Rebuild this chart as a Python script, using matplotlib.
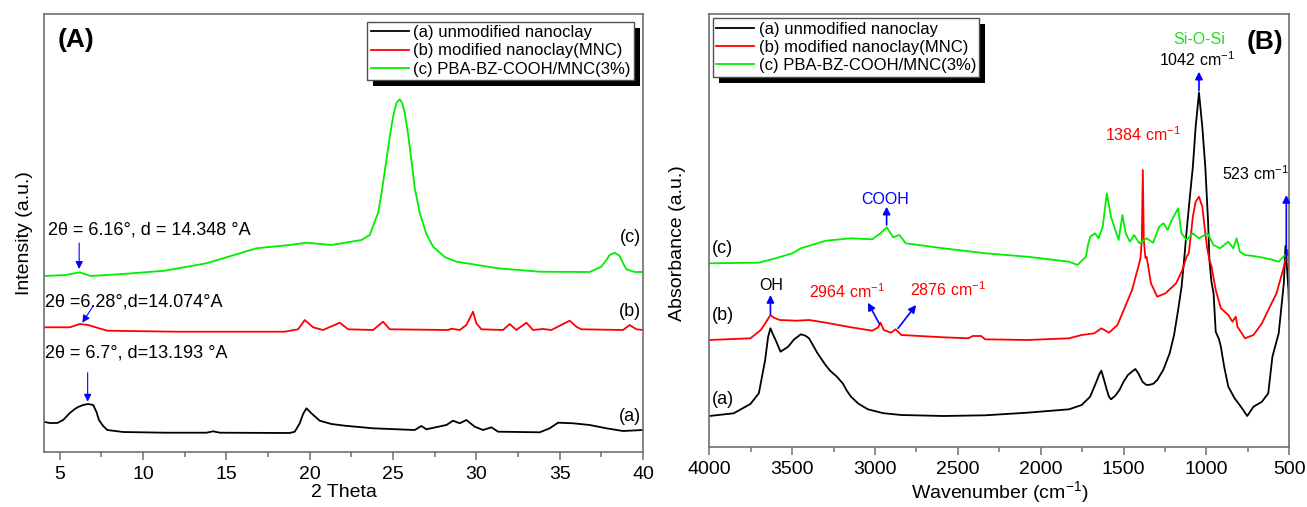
import matplotlib
matplotlib.use("Agg")
import matplotlib.pyplot as plt
from matplotlib.patches import Rectangle
from matplotlib.ticker import MultipleLocator

plt.rcParams["font.family"] = ["Liberation Sans", "DejaVu Sans"]
plt.rcParams["mathtext.fontset"] = "custom"
plt.rcParams["mathtext.rm"] = "Liberation Sans"
plt.rcParams["mathtext.it"] = "Liberation Sans:italic"
plt.rcParams["mathtext.bf"] = "Liberation Sans:bold"

# ---------------- XRD data (2 theta, arbitrary intensity) ----------------
xrd_a_x = [4.0, 4.4, 4.85, 5.2, 5.6, 5.9, 6.1, 6.4, 6.7, 7.0, 7.2, 7.35, 7.6, 7.85, 8.8, 11.3,
           13.8, 14.2, 14.6, 18.8, 19.1, 19.4, 19.6, 19.8, 20.1, 20.6, 21.3, 22.1, 23.8, 26.3,
           26.7, 27.0, 28.2, 28.6, 29.0, 29.4, 29.9, 30.4, 30.9, 31.3, 33.8, 34.4, 34.9, 35.8,
           36.8, 37.8, 38.8, 40.0]
xrd_a_y = [30.3, 29, 29, 32, 39, 43, 45, 47, 48, 47, 40, 32, 26, 22, 20, 19.3,
           19.3, 20.7, 19.3, 19, 20.3, 28.7, 38, 43.7, 38.7, 31.3, 28, 26.3, 23.7, 22,
           26, 22.7, 27, 31.3, 28.7, 32, 25.3, 22, 24.7, 20.3, 19.7, 23.7, 29.3, 28.7,
           27, 23.7, 21, 22]

xrd_b_x = [4.0, 5.6, 6.2, 6.7, 7.35, 7.85, 12.0, 18.5, 19.3, 19.7, 20.2, 20.8, 21.8, 22.3,
           23.8, 24.4, 24.8, 28.3, 28.5, 29.0, 29.4, 29.8, 30.0, 30.3, 31.6, 32.0, 32.4,
           33.0, 33.4, 34.0, 34.5, 35.6, 36.0, 36.3, 38.8, 39.2, 39.6, 40.0]
xrd_b_y = [124.7, 124.7, 128, 127, 123.7, 121.3, 120.3, 120.3, 122.7, 132, 124.7, 122, 129.3, 122.7,
           122, 130.3, 122.7, 122, 123.3, 122, 127, 140.3, 128.7, 122.7, 122, 128, 122,
           129.3, 122, 123, 122, 131.3, 125.3, 122.7, 122, 127, 122.7, 122]

xrd_c_x = [4.0, 5.35, 6.2, 6.85, 8.8, 11.3, 13.8, 15.8, 16.8, 18.8, 19.8, 21.3, 23.1, 23.6,
           24.1, 24.3, 24.6, 24.8, 25.0, 25.2, 25.4, 25.55, 25.7, 25.9, 26.1, 26.3, 26.6,
           27.0, 27.4, 28.1, 28.8, 31.3, 33.8, 36.8, 37.5, 37.8, 38.0, 38.3, 38.6, 38.8,
           39.0, 39.5, 40.0]
xrd_c_y = [176, 177, 179.7, 176, 178, 181.3, 188.7, 198.7, 203.7, 207, 209.3, 207, 212, 217,
           239, 258, 292, 315, 335.3, 349, 352.7, 349, 339, 318, 292, 264, 239,
           218, 205.3, 195, 190.3, 183.7, 180.3, 180, 185.3, 192, 197, 199.3, 196, 189,
           182.7, 180, 180]

# ---------------- FTIR data (wavenumber, arbitrary absorbance) ----------------
ir_a_x = [4000, 3853, 3752, 3701, 3663, 3645, 3631, 3615, 3600, 3570, 3524, 3490, 3448, 3420,
          3398, 3347, 3300, 3271, 3230, 3195, 3170, 3145, 3100, 3043, 2950, 2841, 2588, 2335,
          2082, 1829, 1753, 1702, 1664, 1648, 1634, 1620, 1601, 1588, 1576, 1550, 1525, 1500,
          1474, 1450, 1429, 1410, 1386, 1365, 1348, 1320, 1297, 1260, 1222, 1195, 1171, 1150,
          1133, 1120, 1100, 1082, 1065, 1045, 1025, 1007, 990, 982, 970, 957, 944, 924, 913,
          893, 868, 830, 792, 754, 716, 665, 627, 602, 564, 533, 523, 505, 500]
ir_a_y = [30.7, 33.4, 42.7, 53.4, 86.7, 110, 118.4, 112, 106.7, 95, 100, 107, 112.4, 111,
          108.4, 93.4, 82, 76, 70, 63.4, 56, 50, 43, 37.4, 33.5, 31.7, 30.7, 31.4,
          34, 37.4, 41.7, 50, 65, 72, 76, 68, 56.7, 50, 47.4, 51, 56.7, 65,
          71.7, 75, 77.7, 73, 65, 62, 61.7, 63, 66.7, 77, 93.4, 112, 136.7, 160,
          190, 215, 250, 280, 320, 354, 320, 280, 225, 186.7, 165, 153.4, 115, 107.4, 100,
          80, 60, 48.4, 40, 30.7, 40, 45, 53.4, 90, 113.4, 163.4, 200.7, 156.7, 126.7]

ir_b_x = [4000, 3752, 3689, 3660, 3631, 3610, 3575, 3474, 3398, 3296, 3145, 3017, 2980, 2967,
          2947, 2904, 2876, 2841, 2588, 2436, 2411, 2360, 2335, 2082, 1829, 1753, 1677, 1634,
          1588, 1537, 1499, 1449, 1411, 1398, 1390, 1384, 1378, 1368, 1361, 1335, 1297, 1247,
          1183, 1145, 1120, 1107, 1095, 1082, 1065, 1045, 1025, 1007, 995, 982, 969, 944,
          913, 868, 843, 823, 813, 767, 716, 665, 627, 577, 538, 518, 510, 500]
ir_b_y = [106.7, 108.4, 116.7, 124, 131.7, 129, 126.7, 126, 126.7, 124, 119.4, 116, 119.4, 124,
          116.7, 114, 117.4, 111.7, 109.4, 108.4, 110.7, 110.7, 107.4, 106.7, 108.4, 111.7, 113.4, 118.4,
          114, 121.7, 136.7, 156.7, 180, 188.7, 206.7, 276.7, 206.7, 188.7, 190, 163.4, 150, 153.4,
          163.4, 176.7, 190, 193.4, 210, 230, 245, 250, 240, 213.4, 198, 186.7, 180, 156.7,
          138.4, 131.7, 125, 130, 120, 108.4, 111.7, 123.4, 136.7, 153.4, 176.7, 190, 196.7, 176.7]

ir_c_x = [4000, 3701, 3600, 3499, 3448, 3296, 3145, 3017, 2967, 2929, 2891, 2853, 2815, 2588,
          2335, 2082, 1829, 1778, 1727, 1715, 1702, 1672, 1651, 1626, 1601, 1576, 1550, 1530,
          1507, 1487, 1462, 1437, 1404, 1361, 1322, 1285, 1259, 1234, 1209, 1171, 1151, 1120,
          1082, 1045, 994, 957, 919, 868, 838, 818, 798, 767, 716, 665, 614, 564, 526, 500]
ir_c_y = [183.4, 184, 188.4, 193.4, 198.4, 206, 208.4, 207.4, 213.4, 219.4, 209.4, 211.7, 203.4, 198.4,
          193.4, 190, 185, 181.7, 190, 201.7, 210, 213.4, 208.4, 220, 253.4, 230, 216.7, 206.7,
          231.7, 213.4, 205, 211.7, 203.4, 208.4, 204, 220, 223.4, 216.7, 226.7, 238.4, 213.4, 206.7,
          213.4, 208.4, 213.4, 201.7, 198.4, 205, 198.4, 208.4, 195, 191.7, 190.7, 189.2, 187.4, 185, 191.7, 188.4]

legend_labels = ["(a) unmodified nanoclay", "(b) modified nanoclay(MNC)", "(c) PBA-BZ-COOH/MNC(3%)"]
series_colors = ["#000000", "#ff0000", "#00ee00"]

W, H = 1307, 507
fig = plt.figure(figsize=(W / 100, H / 100), dpi=100)
axA = fig.add_axes([44 / W, (H - 452) / H, 599 / W, 438 / H])
axB = fig.add_axes([709.3 / W, (H - 446.7) / H, 580 / W, 432.4 / H])

frame_color = "#707070"
for ax in (axA, axB):
    for s in ax.spines.values():
        s.set_color(frame_color)
        s.set_linewidth(1.2)
    ax.tick_params(axis="x", which="major", direction="out", length=6, width=1.1,
                   color=frame_color, labelsize=14, pad=4)
    ax.tick_params(axis="x", which="minor", direction="out", length=3.5, width=1.1,
                   color=frame_color)
    ax.set_yticks([])


def add_shadow(ax, leg, off=6):
    # solid black drop shadow behind the legend box, offset right and down
    fig.canvas.draw()
    bb = leg.get_window_extent()
    inv = ax.transAxes.inverted()
    (x0, y0) = inv.transform((bb.x0 + off, bb.y0 - off))
    (x1, y1) = inv.transform((bb.x1 + off, bb.y1 - off))
    r = Rectangle((x0, y0), x1 - x0, y1 - y0, transform=ax.transAxes,
                  facecolor="black", edgecolor="none", zorder=4.9, clip_on=False)
    ax.add_patch(r)


def make_legend(ax, loc, anchor):
    leg = ax.legend(legend_labels, loc=loc, bbox_to_anchor=anchor, borderaxespad=0,
                    fontsize=12, frameon=True, fancybox=False, framealpha=1,
                    edgecolor="#505050", handlelength=2.3, handletextpad=0.25,
                    labelspacing=0.2, borderpad=0.2)
    leg.get_frame().set_linewidth(1.0)
    leg.set_zorder(5)
    return leg


# ---------------- Panel A: XRD ----------------
lw = 1.3
axA.plot(xrd_a_x, xrd_a_y, color=series_colors[0], lw=lw)
axA.plot(xrd_b_x, xrd_b_y, color=series_colors[1], lw=lw)
axA.plot(xrd_c_x, xrd_c_y, color=series_colors[2], lw=lw)
axA.set_xlim(4.05, 40)
axA.set_ylim(0, 438)
axA.xaxis.set_major_locator(MultipleLocator(5))
axA.xaxis.set_minor_locator(MultipleLocator(2.5))
axA.set_xlabel("2 Theta", fontsize=14, labelpad=1)
axA.set_ylabel("Intensity (a.u.)", fontsize=14, labelpad=8)
legA = make_legend(axA, "upper right", (0.985, 0.9824))

axA.text(0.022, 0.94, "(A)", transform=axA.transAxes, fontsize=19, fontweight="bold",
         ha="left", va="center")

ann_fs = 13
axA.text(4.3, 222, "2θ = 6.16°, d = 14.348 °A", fontsize=ann_fs, ha="left", va="center")
axA.text(4.1, 150.3, "2θ =6.28°,d=14.074°A", fontsize=ann_fs, ha="left", va="center")
axA.text(4.1, 98.7, "2θ = 6.7°, d=13.193 °A", fontsize=ann_fs, ha="left", va="center")
for ytxt, lab in [(214, "(c)"), (140.3, "(b)"), (35.3, "(a)")]:
    axA.text(39.85, ytxt, lab, fontsize=ann_fs, ha="right", va="center")

arrow_kw = dict(arrowstyle="-|>", color="blue", lw=0.8, mutation_scale=11, shrinkA=0, shrinkB=0)
axA.annotate("", xy=(6.16, 183), xytext=(6.16, 209), arrowprops=arrow_kw)
axA.annotate("", xy=(6.35, 129.3), xytext=(7.0, 146), arrowprops=arrow_kw)
axA.annotate("", xy=(6.67, 50.3), xytext=(6.67, 79.3), arrowprops=arrow_kw)

# ---------------- Panel B: FTIR ----------------
axB.plot(ir_a_x, ir_a_y, color=series_colors[0], lw=lw)
axB.plot(ir_b_x, ir_b_y, color=series_colors[1], lw=lw)
axB.plot(ir_c_x, ir_c_y, color=series_colors[2], lw=lw)
axB.set_xlim(4000, 500)
axB.set_ylim(0, 432.4)
axB.xaxis.set_major_locator(MultipleLocator(500))
axB.xaxis.set_minor_locator(MultipleLocator(250))
axB.set_xlabel("Wavenumber (cm$^{-1}$)", fontsize=14, labelpad=1)
axB.set_ylabel("Absorbance (a.u.)", fontsize=14, labelpad=8)
axB.yaxis.set_label_coords(-0.04, 0.47)
legB = make_legend(axB, "upper left", (0.0059, 0.9907))

axB.text(0.989, 0.936, "(B)", transform=axB.transAxes, fontsize=19, fontweight="bold",
         ha="right", va="center")

small_fs = 11.5
axB.text(1045, 407.4, "Si-O-Si", color="#22dd22", fontsize=small_fs, ha="center", va="center")
axB.text(1057, 386.7, "1042 cm$^{-1}$", color="black", fontsize=small_fs, ha="center", va="center")
axB.text(1386, 311.7, "1384 cm$^{-1}$", color="red", fontsize=small_fs, ha="center", va="center")
axB.text(706, 273.4, "523 cm$^{-1}$", color="black", fontsize=small_fs, ha="center", va="center")
axB.text(2937, 247.7, "COOH", color="blue", fontsize=small_fs, ha="center", va="center")
axB.text(3625, 161.7, "OH", color="black", fontsize=small_fs, ha="center", va="center")
axB.text(3170, 155, "2964 cm$^{-1}$", color="red", fontsize=small_fs, ha="center", va="center")
axB.text(2563, 157.4, "2876 cm$^{-1}$", color="red", fontsize=small_fs, ha="center", va="center")
for ytxt, lab in [(198.4, "(c)"), (130.7, "(b)"), (46.7, "(a)")]:
    axB.text(3985, ytxt, lab, fontsize=ann_fs, ha="left", va="center")

arrow_b = dict(arrowstyle="-|>", color="blue", lw=1.2, mutation_scale=11, shrinkA=0, shrinkB=0)
axB.annotate("", xy=(1045, 375), xytext=(1045, 356), arrowprops=arrow_b)
axB.annotate("", xy=(518, 251.7), xytext=(518, 188.7), arrowprops=arrow_b)
axB.annotate("", xy=(2930, 240), xytext=(2930, 221.7), arrowprops=arrow_b)
axB.annotate("", xy=(3631, 151.7), xytext=(3631, 132.7), arrowprops=arrow_b)
axB.annotate("", xy=(3043, 144), xytext=(2973, 122.7), arrowprops=arrow_b)
axB.annotate("", xy=(2752, 141.7), xytext=(2861, 118.4), arrowprops=arrow_b)

add_shadow(axA, legA)
add_shadow(axB, legB)

fig.savefig("out.png", dpi=100)
